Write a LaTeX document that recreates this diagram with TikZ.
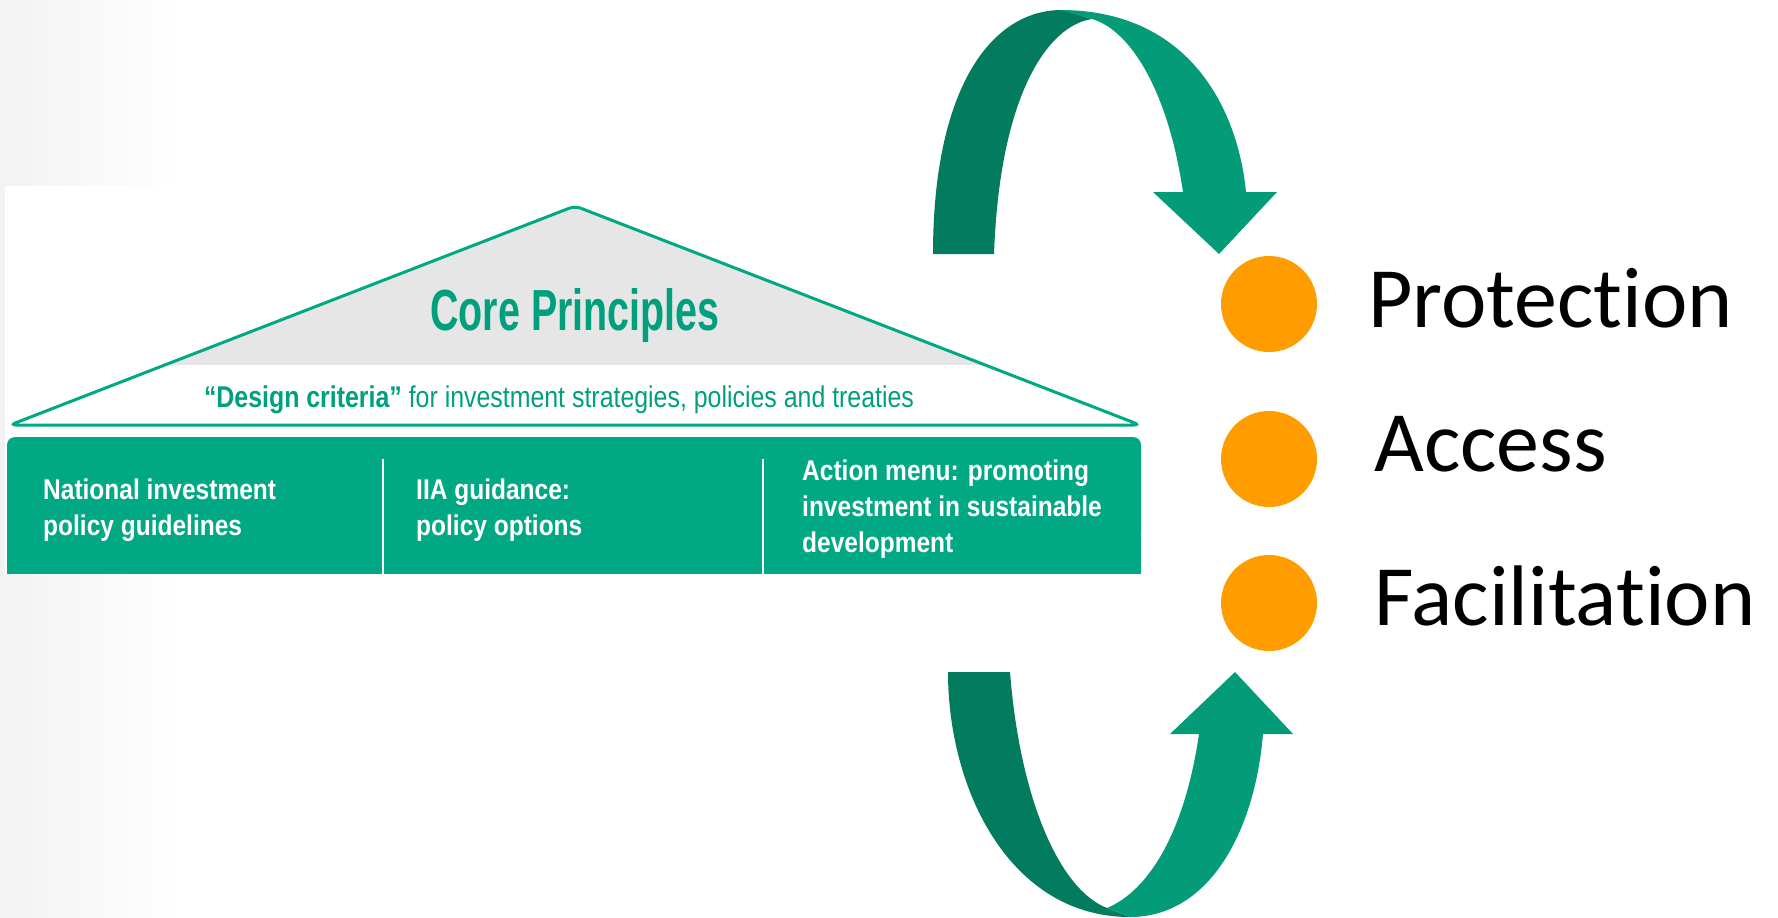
\documentclass[tikz,border=0pt]{standalone}
\usepackage{fontspec}
\setmainfont{Liberation Sans}
\newfontfamily\condfont[FakeStretch=0.86]{Liberation Sans}
\newfontfamily\critfont[FakeStretch=0.83]{Liberation Sans}
\newfontfamily\headfont[FakeStretch=0.68]{Liberation Sans}
\newfontfamily\listfont[Ligatures=NoCommon]{Carlito}
\usepackage{tikz}

\definecolor{housegreen}{HTML}{00A884}
\definecolor{textgreen}{HTML}{00A07E}
\definecolor{arrowdark}{HTML}{037B5F}
\definecolor{arrowlight}{HTML}{049B78}
\definecolor{dotorange}{HTML}{FF9C00}
\definecolor{roofgrey}{HTML}{E6E6E6}

\begin{document}
\begin{tikzpicture}[x=1pt,y=-1pt,
    pillartext/.style={anchor=north west,align=left,inner sep=0pt,text=white,
        font=\condfont\bfseries\fontsize{28.5}{36}\selectfont},
    listitem/.style={anchor=base west,inner sep=0pt,
        font=\listfont\fontsize{86}{100}\selectfont},
    bullet/.style={circle,fill=dotorange,minimum size=96pt,inner sep=0pt}]
            \useasboundingbox (0,0) rectangle (1778,918);
            \fill[white] (0,0) rectangle (1778,918);
            \shade[left color=black!5,right color=white] (0,0) rectangle (180,918);
            \fill[white] (5,186) rectangle (1141,574);

            % roof
            \begin{scope}
                \clip (10,425) -- (575,206) -- (1140,425) -- cycle;
                \fill[roofgrey] (0,190) rectangle (1150,365);
            \end{scope}
            \draw[housegreen,line width=3pt,rounded corners=6pt] (10,425) -- (575,206) -- (1140,425) -- cycle;
            \node[font=\headfont\bfseries\fontsize{58}{60}\selectfont,text=textgreen,anchor=base] (core) at (575,330) {Core Principles};
            \node[font=\critfont\fontsize{30}{32}\selectfont,text=textgreen,anchor=base] (criteria) at (559,407) {\textbf{“Design criteria”} for investment strategies, policies and treaties};

            % pillars
            \fill[housegreen,rounded corners=8pt] (7,437) rectangle (1141,540);
            \fill[housegreen] (7,480) rectangle (1141,574);
            \draw[white,line width=2.5pt] (383,459) -- (383,574);
            \draw[white,line width=2.5pt] (763,459) -- (763,574);
            \node[pillartext] (national) at (43,479) {National investment\\policy guidelines};
            \node[pillartext] (iia) at (416,479) {IIA guidance:\\policy options};
            \node[pillartext] (action) at (802,460) {Action menu: promoting\\investment in sustainable\\development};

            % top arrow
            \fill[arrowdark] (933,254) .. controls (933,90) and (990,10) .. (1062,10) -- (1092,19)
                .. controls (1050,25) and (1000,90) .. (994,254) -- cycle;
            \fill[arrowlight] (1060,10) .. controls (1190,10) and (1238,110) .. (1246,192) -- (1277,192) -- (1219,254)
                -- (1153,192) -- (1183,192) .. controls (1168,90) and (1130,30) .. (1092,19) -- cycle;

            % bottom arrow
            \fill[arrowdark] (948,672) .. controls (948,790) and (1010,917) .. (1130,917) -- (1107,908)
                .. controls (1060,890) and (1020,800) .. (1010,672) -- cycle;
            \fill[arrowlight] (1130,917) .. controls (1210,917) and (1255,830) .. (1263,734) -- (1293,734) -- (1235,672)
                -- (1170,734) -- (1199,734) .. controls (1185,830) and (1150,890) .. (1107,908) -- cycle;

            % list
            \node[bullet] (dot1) at (1269,304) {};
            \node[bullet] (dot2) at (1269,459) {};
            \node[bullet] (dot3) at (1269,603) {};
            \node[listitem] (protection) at (1368,327) {Protection};
            \node[listitem] (access) at (1374,471) {Access};
            \node[listitem] (facilitation) at (1374,625) {Facilitation};
\end{tikzpicture}
\end{document}
